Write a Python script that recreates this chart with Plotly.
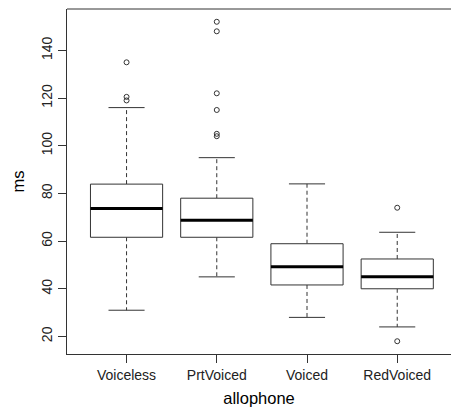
import plotly.graph_objects as go

categories = ["Voiceless", "PrtVoiced", "Voiced", "RedVoiced"]
lower_whisker = [31, 45, 28, 24]
q1 = [61.6, 61.6, 41.6, 40]
median = [73.7, 68.7, 49.2, 45]
q3 = [83.9, 78, 58.9, 52.5]
upper_whisker = [116, 95, 84, 63.7]
outliers = [
    [135, 120.5, 119],
    [152, 148, 122, 115, 105, 104],
    [],
    [74, 18],
]
y_ticks = [20, 40, 60, 80, 100, 120, 140]

half_box = 0.4
half_cap = 0.2
pos = list(range(1, len(categories) + 1))

bx, by, mx, my, wx, wy, cx, cy, ox, oy = [], [], [], [], [], [], [], [], [], []
for i, p in enumerate(pos):
    bx += [p - half_box, p + half_box, p + half_box, p - half_box, p - half_box, None]
    by += [q1[i], q1[i], q3[i], q3[i], q1[i], None]
    mx += [p - half_box, p + half_box, None]
    my += [median[i], median[i], None]
    wx += [p, p, None, p, p, None]
    wy += [q3[i], upper_whisker[i], None, q1[i], lower_whisker[i], None]
    cx += [p - half_cap, p + half_cap, None, p - half_cap, p + half_cap, None]
    cy += [upper_whisker[i], upper_whisker[i], None, lower_whisker[i], lower_whisker[i], None]
    for v in outliers[i]:
        ox.append(p)
        oy.append(v)

line_col = "#333333"
fig = go.Figure()
fig.add_trace(go.Scatter(x=wx, y=wy, mode="lines", line=dict(color=line_col, width=1, dash="4px,3px"), hoverinfo="skip"))
fig.add_trace(go.Scatter(x=cx, y=cy, mode="lines", line=dict(color=line_col, width=1), hoverinfo="skip"))
fig.add_trace(go.Scatter(x=bx, y=by, mode="lines", line=dict(color=line_col, width=1), fill="toself", fillcolor="white", hoverinfo="skip"))
fig.add_trace(go.Scatter(x=mx, y=my, mode="lines", line=dict(color="black", width=3), hoverinfo="skip"))
fig.add_trace(go.Scatter(x=ox, y=oy, mode="markers",
                         marker=dict(symbol="circle-open", size=5, color=line_col, line=dict(width=1, color=line_col)),
                         hoverinfo="skip"))

# top frame line of the plotting region
fig.add_shape(type="line", xref="paper", yref="paper", x0=0, x1=1, y0=1, y1=1,
              line=dict(color=line_col, width=1))

fig.update_layout(
    width=451, height=414,
    margin=dict(l=67, r=0, t=9, b=60, autoexpand=False),
    paper_bgcolor="white", plot_bgcolor="white",
    showlegend=False,
    font=dict(family="Liberation Sans, Arial, sans-serif", color="#222222"),
    xaxis=dict(
        range=[0.34, 4.596], automargin=False,
        tickmode="array", tickvals=pos, ticktext=categories,
        ticks="outside", ticklen=8, tickcolor=line_col, tickwidth=1,
        showline=True, linecolor=line_col, linewidth=1, mirror=False,
        showgrid=False, zeroline=False,
        tickfont=dict(size=14, color="#222222"),
        title=dict(text="allophone", font=dict(size=16.5, color="black"), standoff=10),
    ),
    yaxis=dict(
        range=[12.64, 157.36], automargin=False,
        tickmode="array", tickvals=y_ticks,
        ticks="outside", ticklen=8, tickcolor=line_col, tickwidth=1,
        tickangle=-90,
        showline=True, linecolor=line_col, linewidth=1, mirror=False,
        showgrid=False, zeroline=False,
        tickfont=dict(size=14, color="#222222"),
        title=dict(text="ms", font=dict(size=16.5, color="black"), standoff=10),
    ),
)

fig.write_html(
    "out.html",
    config={"displayModeBar": False},
    post_script="document.body.style.margin='0';document.body.style.overflow='hidden';",
)
